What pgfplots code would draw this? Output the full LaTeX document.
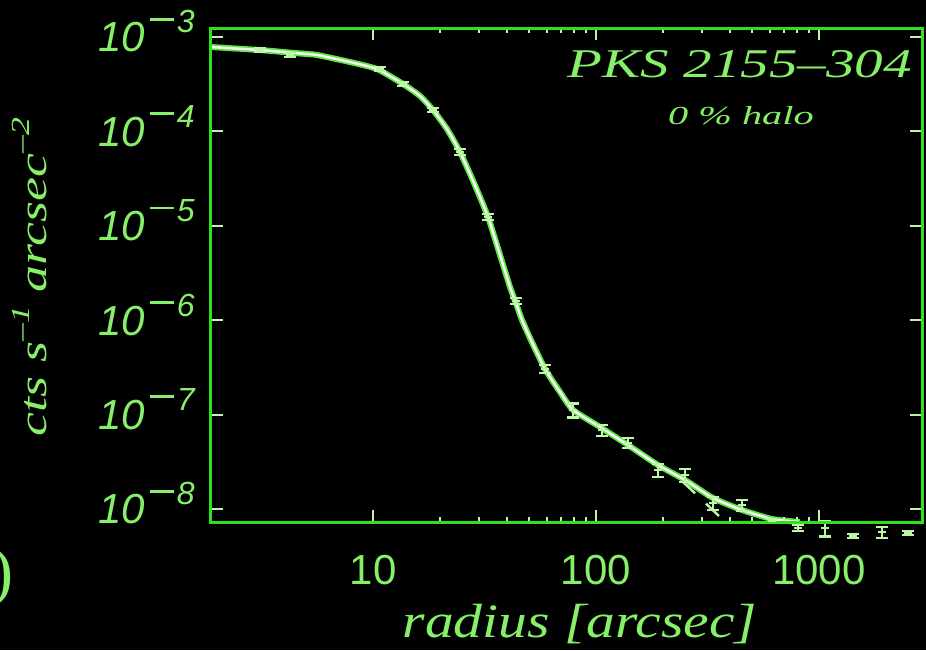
\documentclass[border=0pt]{standalone}
\usepackage{fontspec}
\setmainfont{Liberation Serif}
\setsansfont{Liberation Sans}
\usepackage{pgfplots}
\pgfplotsset{compat=1.18}
\definecolor{axgreen}{RGB}{45,225,30}
\definecolor{txtgreen}{RGB}{135,240,105}
\definecolor{curvegreen}{RGB}{90,230,60}
\definecolor{tickcol}{RGB}{190,245,170}
\newcommand{\ylab}[1]{{\sffamily\itshape\fontsize{21}{21}\selectfont 10\hspace{2.5pt}\raisebox{9.5pt}{\fontsize{16}{16}\selectfont\rule[6.2pt]{12pt}{1.4pt}\hspace{1.5pt}#1}}}
\begin{document}
\begin{tikzpicture}
\useasboundingbox (-105.5pt,-64pt) rectangle (357.5pt,261pt);
\fill[black] (-105.5pt,-64pt) rectangle (357.5pt,261pt);
\begin{axis}[
  at={(0pt,0pt)}, anchor=south west,
  scale only axis, width=355.5pt, height=247pt,
  xmode=log, ymode=log,
  xmin=1.877, xmax=2897, ymin=7.28e-9, ymax=1.245e-3,
  axis line style={axgreen, line width=1.5pt},
  axis on top, clip=false,
  xtick={10,100,1000}, xticklabels={10,100,1000},
  ytick={1e-8,1e-7,1e-6,1e-5,1e-4,1e-3},
  yticklabels={\ylab{8},\ylab{7},\ylab{6},\ylab{5},\ylab{4},\ylab{3}},
  yminorticks=false,
  tick align=inside,
  major tick length=6pt, minor tick length=2.5pt,
  tick style={tickcol, line width=1pt},
  xticklabel style={font=\sffamily\fontsize{21}{21}\selectfont, text=txtgreen, anchor=north, inner sep=0pt, yshift=-16.5pt},
  yticklabel style={text=txtgreen, anchor=base east, inner sep=0pt, xshift=-8pt, yshift=-7.5pt},
]
% model curve (glow + core)
\pgfplotsset{curvedata/.style={smooth, tension=0.35, no markers}}
\addplot[curvegreen, line width=3pt, curvedata] coordinates {
(1.877,7.83e-4) (3.113,7.28e-4) (4.706,6.69e-4) (5.609,6.45e-4) (7.886,5.43e-4)
(10.42,4.58e-4) (13.63,3.18e-4) (16.25,2.37e-4) (18.58,1.685e-4) (21.47,1.06e-4)
(24.55,6.05e-5) (28.38,2.84e-5) (32.79,1.24e-5) (37.11,4.91e-6) (41.15,2.25e-6)
(44.22,1.41e-6) (46.57,1.005e-6) (50.58,6.48e-7) (59.07,3.04e-7) (68.96,1.735e-7)
(78.87,1.12e-7) (104.2,7.39e-8) (139.2,4.76e-8) (189.7,2.92e-8)
(250.6,2.03e-8) (334.7,1.307e-8) (451.6,9.76e-9) (615.5,7.83e-9) (821.6,7.28e-9)
};
\addplot[white, line width=1.2pt, curvedata] coordinates {
(1.877,7.83e-4) (3.113,7.28e-4) (4.706,6.69e-4) (5.609,6.45e-4) (7.886,5.43e-4)
(10.42,4.58e-4) (13.63,3.18e-4) (16.25,2.37e-4) (18.58,1.685e-4) (21.47,1.06e-4)
(24.55,6.05e-5) (28.38,2.84e-5) (32.79,1.24e-5) (37.11,4.91e-6) (41.15,2.25e-6)
(44.22,1.41e-6) (46.57,1.005e-6) (50.58,6.48e-7) (59.07,3.04e-7) (68.96,1.735e-7)
(78.87,1.12e-7) (104.2,7.39e-8) (139.2,4.76e-8) (189.7,2.92e-8)
(250.6,2.03e-8) (334.7,1.307e-8) (451.6,9.76e-9) (615.5,7.83e-9) (821.6,7.28e-9)
};
% dashed component
\addplot[tickcol, line width=1.2pt, dash pattern=on 9pt off 7.5pt, no markers] coordinates {
(243.1,1.98e-8) (356.1,8.43e-9)
};
% data with error bars
\addplot[only marks, mark=-, mark size=2.2pt, tickcol, line width=1.1pt,
  error bars/.cd, y dir=both, y explicit relative,
  error mark=|, error mark options={mark size=3pt, line width=1.1pt, tickcol},
  error bar style={line width=1.1pt, tickcol}] coordinates {
(3.113,7.28e-4) +- (0,0.04)
(4.244,6.45e-4) +- (0,0.05)
(10.75,4.58e-4) +- (0,0.05)
(13.63,3.18e-4) +- (0,0.05)
(18.58,1.685e-4) +- (0,0.05)
(24.55,6.05e-5) +- (0,0.075)
(32.79,1.24e-5) +- (0,0.075)
(43.78,1.60e-6) +- (0,0.075)
(59.07,3.04e-7) +- (0,0.10)
(78.87,1.12e-7) +- (0,0.17)
(106.4,6.87e-8) +- (0,0.14)
(139.2,5.00e-8) +- (0,0.12)
(189.7,2.59e-8) +- (0,0.157)
(250.6,2.29e-8) +- (0,0.157)
(334.7,1.158e-8) +- (0,0.157)
(451.6,1.10e-8) +- (0,0.13)
(615.5,7.46e-9) +- (0,0.05)
(805,6.29e-9) +- (0,0.075)
(1064,6.29e-9) +- (0,0.186)
(1421,5.18e-9) +- (0,0.05)
(1917,5.71e-9) +- (0,0.13)
(2506,5.57e-9) +- (0,0.05)
};
\end{axis}
% axis labels and annotations (1px = 0.5pt, origin at lower-left of axis box)
\node[anchor=base, inner sep=0pt, text=txtgreen] at (184.5pt,-57.5pt)
  {\scalebox{1.2}[1]{\itshape\fontsize{24}{24}\selectfont radius [arcsec]}};
\node[anchor=base, inner sep=0pt, text=txtgreen, rotate=90] at (-82pt,122.5pt)
  {\scalebox{1.38}[1]{\itshape\fontsize{19.6}{20}\selectfont cts s\raisebox{0.45em}{\fontsize{13}{13}\selectfont --1} arcsec\raisebox{0.45em}{\fontsize{13}{13}\selectfont --2}}};
\node[anchor=base, inner sep=0pt, text=txtgreen] at (264.5pt,222.5pt)
  {\scalebox{1.4}[1]{\itshape\fontsize{20.4}{21}\selectfont PKS 2155--304}};
\node[anchor=base, inner sep=0pt, text=txtgreen] at (265pt,199pt)
  {\scalebox{1.55}[1]{\itshape\fontsize{13}{13}\selectfont 0 \% halo}};
\node[anchor=east, inner sep=0pt, text=txtgreen] at (-98.5pt,-28pt)
  {\fontsize{33}{33}\selectfont )};
\end{tikzpicture}
\end{document}
